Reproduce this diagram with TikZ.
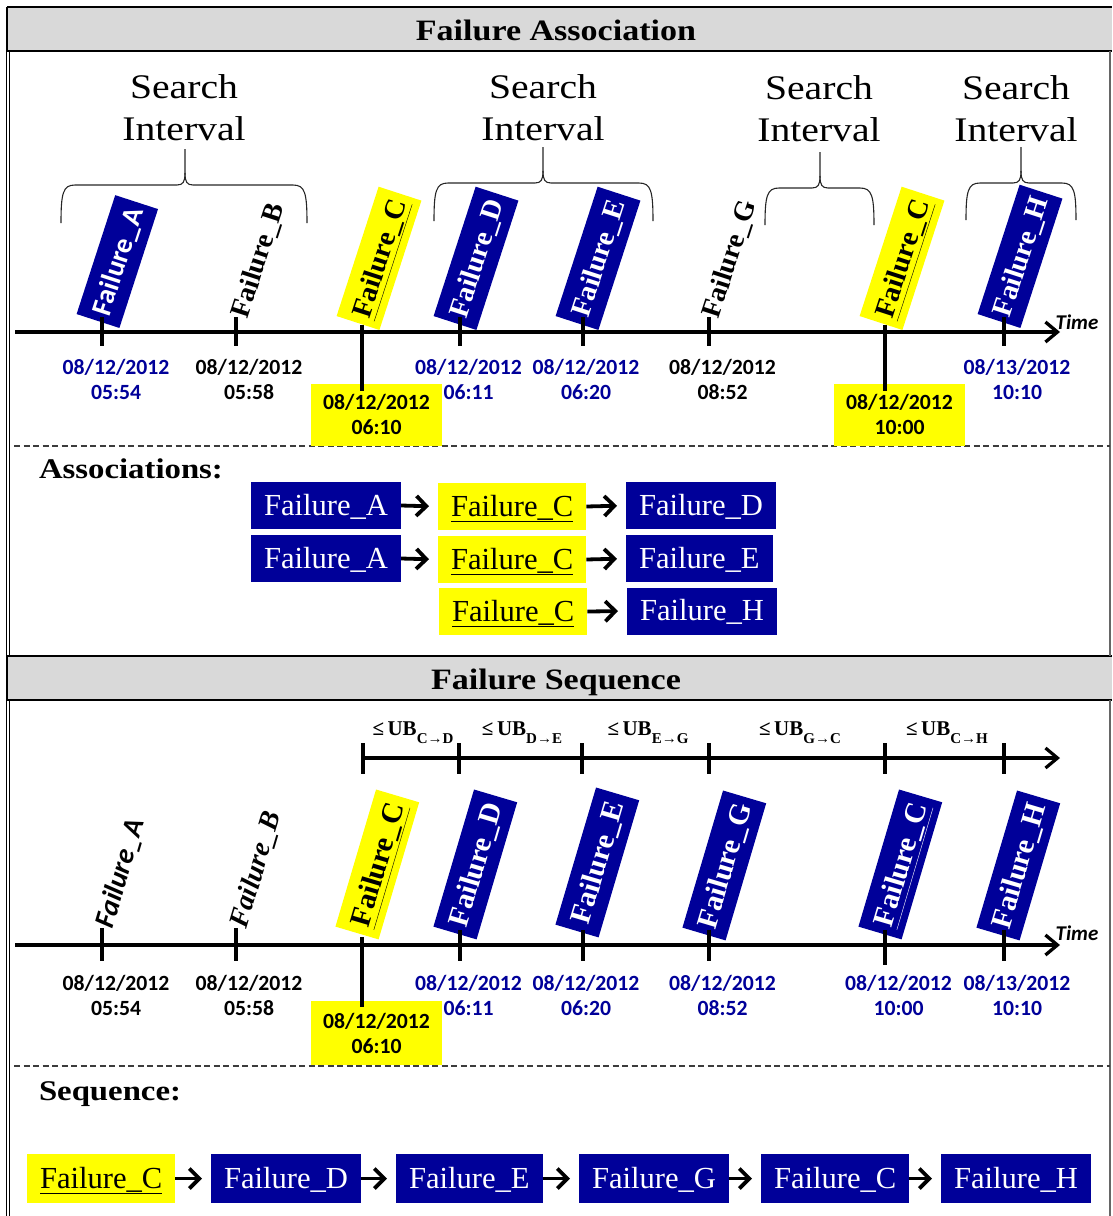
\documentclass[tikz,border=0pt]{standalone}
\usepackage{fontspec}
\setmainfont{Liberation Serif}
\newfontfamily\cambr[FakeStretch=1.15]{Liberation Serif}
\newfontfamily\calib{Carlito}
\usetikzlibrary{arrows.meta}
\definecolor{navy}{RGB}{0,0,153}
\definecolor{bandgray}{RGB}{217,217,217}
\definecolor{hiyel}{RGB}{255,255,0}
\definecolor{dashgray}{RGB}{60,60,60}
\newcommand\fsz[2]{\fontsize{#1}{#2}\selectfont}
\newcommand\ubsub[1]{\raisebox{-8pt}{\fsz{15}{15}#1}}
% curly brace over a search interval: left end, right end, tip x, top y, end y
\newcommand\sibrace[5]{%
  \draw[brc] (#1,#5) .. controls (#1,#4+8) and (#1+2,#4) .. (#1+14,#4) -- (#3-8,#4)
     .. controls (#3-2,#4) and (#3,#4-3) .. (#3,#4-12) -- (#3,#4-36);
  \draw[brc] (#2,#5) .. controls (#2,#4+8) and (#2-2,#4) .. (#2-14,#4) -- (#3+8,#4)
     .. controls (#3+2,#4) and (#3,#4-3) .. (#3,#4-12);
}
\tikzset{
  every node/.style={inner sep=0pt, outer sep=0pt},
  bandfill/.style={fill=bandgray},
  rulebold/.style={line width=2pt},
  rulethin/.style={line width=1.2pt},
  hdr/.style={anchor=base, font=\cambr\bfseries\fsz{29.6}{36}},
  srch/.style={font=\cambr\fsz{34.5}{42}, align=center},
  brc/.style={line width=1.1pt, draw=black!85},
  timeaxis/.style={line width=3.3pt, -{Straight Barb[length=12pt,width=20pt]}},
  tickmark/.style={line width=4pt},
  timelbl/.style={font=\calib\bfseries\itshape\fsz{21}{21}},
  rbone/.style={rotate=72, anchor=west, minimum width=136pt, minimum height=45pt,
     text height=19pt, text depth=0pt, font=\bfseries\fsz{28.5}{28.5}},
  rbtwo/.style={rotate=73.5, anchor=west, minimum width=143pt, minimum height=45pt,
     text height=19.5pt, text depth=0pt, font=\bfseries\fsz{29.5}{29.5}},
  navyfill/.style={fill=navy, text=white},
  yelfill/.style={fill=hiyel, text=black},
  freelbl/.style={anchor=west, text height=18pt, text depth=0pt, font=\bfseries\fsz{28}{28}},
  datelbl/.style={font=\calib\bfseries\fsz{21.7}{25}, align=center},
  datebox/.style={datelbl, fill=hiyel, minimum width=131pt, minimum height=62pt},
  sectlbl/.style={anchor=base west, font=\cambr\bfseries\fsz{28.5}{28.5}},
  fbox/.style={anchor=west, font=\fsz{30.6}{30.6}, inner xsep=13pt, minimum height=47pt,
     text height=20pt, text depth=1pt},
  flow/.style={line width=3.8pt, -{Straight Barb[length=10pt,width=20pt]}, shorten >=9pt},
  dashsep/.style={line width=1.3pt, draw=dashgray, dash pattern=on 6pt off 3.5pt},
  ubbar/.style={line width=3.2pt},
  ublbl/.style={anchor=base, font=\bfseries\fsz{21}{21}},
}
\begin{document}
\begin{tikzpicture}[x=1pt,y=-1pt]
\useasboundingbox (0,0) rectangle (1112,1216);

% ---------- frame and title bands ----------
\fill[bandfill] (7,7) rectangle (1112,51);
\fill[bandfill] (7,656) rectangle (1112,700);
\draw[rulebold] (7,7) -- (1112,7);
\draw[rulebold] (7,51) -- (1112,51);
\draw[rulebold] (7,656) -- (1112,656);
\draw[rulebold] (7,700) -- (1112,700);
\draw[rulebold] (7,7) -- (7,51);
\draw[rulebold] (7,656) -- (7,700);
\draw[rulethin] (6.5,51) -- (6.5,656) (9.5,51) -- (9.5,656)
                (6.5,700) -- (6.5,1216) (9.5,700) -- (9.5,1216);
\draw[rulethin, draw=black!60] (1110,51) -- (1110,656) (1110,700) -- (1110,1216);

\node[hdr] (hdrA) at (556,40) {Failure Association};
\node[hdr] (hdrS) at (556,689) {Failure Sequence};

% ---------- search intervals ----------
\node[srch] (si1) at (184,107.5) {Search\\Interval};
\node[srch] (si2) at (543,107.5) {Search\\Interval};
\node[srch] (si3) at (819,108.5) {Search\\Interval};
\node[srch] (si4) at (1016,108.5) {Search\\Interval};
\sibrace{61}{307}{185}{185}{223}
\sibrace{434}{653}{543}{183}{221}
\sibrace{765}{874}{820}{188}{225}
\sibrace{966}{1076}{1021}{183}{220}

% ---------- association timeline ----------
\node[rbone, navyfill, minimum width=125pt, font=\calib\bfseries\fsz{28.5}{28.5}] (fa1) at (98,321) {Failure\_A};
\node[freelbl, rotate=72] (fb1) at (239,317) {Failure\_B};
\node[rbone, yelfill] (fc1) at (358,323) {\underline{Failure\_C}};
\node[rbone, navyfill] (fd1) at (455,323) {Failure\_D};
\node[rbone, navyfill] (fe1) at (577,323) {Failure\_E};
\node[freelbl, rotate=72] (fg1) at (710,317) {Failure\_G};
\node[rbone, yelfill] (fcc1) at (881,323) {\underline{Failure\_C}};
\node[rbone, navyfill] (fh1) at (999,321) {Failure\_H};

\coordinate (ta1) at (15,332);
\coordinate (tb1) at (1060,332);
\draw[timeaxis] (ta1) -- (tb1);
\node[timelbl] (time1) at (1077,322) {Time};
\foreach \x in {102,236,460,583,709,1004} \draw[tickmark] (\x,317) -- (\x,346);

\draw[dashsep] (14,446) -- (1110,446);

\node[datelbl, text=navy] (da1) at (116,379) {08/12/2012\\05:54};
\node[datelbl] (db1) at (249,379) {08/12/2012\\05:58};
\node[datebox] (dc1) at (376.5,414.5) {08/12/2012\\06:10};
\node[datelbl, text=navy] (dd1) at (468.5,379) {08/12/2012\\06:11};
\node[datelbl, text=navy] (de1) at (586,379) {08/12/2012\\06:20};
\node[datelbl] (dg1) at (722.5,379) {08/12/2012\\08:52};
\node[datebox] (dcc1) at (899.5,414.5) {08/12/2012\\10:00};
\node[datelbl, text=navy] (dh1) at (1017,379) {08/13/2012\\10:10};
\draw[tickmark] (362,325) -- (362,391);
\draw[tickmark] (885,325) -- (885,391);

% ---------- associations ----------
\node[sectlbl] (assoc) at (39,478) {Associations:};
\node[fbox, navyfill] (r1a) at (251,505.5) {Failure\_A};
\node[fbox, yelfill] (r1c) at (438,506.5) {\underline{Failure\_C}};
\node[fbox, navyfill] (r1d) at (626,505.5) {Failure\_D};
\node[fbox, navyfill] (r2a) at (251,558.5) {Failure\_A};
\node[fbox, yelfill] (r2c) at (438,559.5) {\underline{Failure\_C}};
\node[fbox, navyfill] (r2e) at (626,558.5) {Failure\_E};
\node[fbox, yelfill] (r3c) at (439,611.5) {\underline{Failure\_C}};
\node[fbox, navyfill] (r3h) at (627,611) {Failure\_H};
\draw[flow] (r1a.east) -- (r1c.west);
\draw[flow] (r1c.east) -- (r1d.west);
\draw[flow] (r2a.east) -- (r2c.west);
\draw[flow] (r2c.east) -- (r2e.west);
\draw[flow] (r3c.east) -- (r3h.west);

% ---------- upper bounds between consecutive failures ----------
\foreach \x in {363,459,582,709,885,1004} \draw[ubbar] (\x,743) -- (\x,774);
\coordinate (ua) at (363,758);
\coordinate (ub) at (1060,758);
\draw[ubbar, -{Straight Barb[length=12pt,width=20pt]}] (ua) -- (ub);
\node[ublbl] (ub1) at (413,735) {≤\,UB\ubsub{C→D}};
\node[ublbl] (ub2) at (522,735) {≤\,UB\ubsub{D→E}};
\node[ublbl] (ub3) at (648,735) {≤\,UB\ubsub{E→G}};
\node[ublbl] (ub4) at (800,735) {≤\,UB\ubsub{G→C}};
\node[ublbl] (ub5) at (947,735) {≤\,UB\ubsub{C→H}};

% ---------- sequence timeline ----------
\node[freelbl, rotate=73.5, font=\calib\bfseries\itshape\fsz{28.5}{28.5}] (fa2) at (104,927) {Failure\_A};
\node[freelbl, rotate=73.5, font=\bfseries\itshape\fsz{28}{28}] (fb2) at (238,927) {Failure\_B};
\node[rbtwo, yelfill] (fc2) at (357,933) {\underline{Failure\_C}};
\node[rbtwo, navyfill] (fd2) at (455,933) {Failure\_D};
\node[rbtwo, navyfill] (fe2) at (577,931) {Failure\_E};
\node[rbtwo, navyfill] (fg2) at (704,934) {Failure\_G};
\node[rbtwo, navyfill] (fcc2) at (880,933) {\underline{Failure\_C}};
\node[rbtwo, navyfill] (fh2) at (998,934) {Failure\_H};

\coordinate (ta2) at (15,945);
\coordinate (tb2) at (1060,945);
\draw[timeaxis] (ta2) -- (tb2);
\node[timelbl] (time2) at (1077,933) {Time};
\foreach \x in {102,236} \draw[tickmark] (\x,928) -- (\x,961);
\foreach \x in {460,583,709,1004} \draw[tickmark] (\x,930) -- (\x,961);
\draw[tickmark] (885,930) -- (885,965);

\draw[dashsep] (14,1066) -- (1110,1066);

\node[datelbl] (da2) at (116,995) {08/12/2012\\05:54};
\node[datelbl] (db2) at (249,995) {08/12/2012\\05:58};
\node[datebox, minimum height=64pt] (dc2) at (376.5,1033) {08/12/2012\\06:10};
\node[datelbl, text=navy] (dd2) at (468.5,995) {08/12/2012\\06:11};
\node[datelbl, text=navy] (de2) at (586,995) {08/12/2012\\06:20};
\node[datelbl, text=navy] (dg2) at (722.5,995) {08/12/2012\\08:52};
\node[datelbl, text=navy] (dcc2) at (898.5,995) {08/12/2012\\10:00};
\node[datelbl, text=navy] (dh2) at (1017,995) {08/13/2012\\10:10};
\draw[tickmark] (362,937) -- (362,1007);

% ---------- resulting sequence ----------
\node[sectlbl] (seq) at (39,1100) {Sequence:};
\node[fbox, yelfill, minimum height=49pt] (s1) at (27,1178.5) {\underline{Failure\_C}};
\node[fbox, navyfill, minimum height=49pt] (s2) at (211,1178.5) {Failure\_D};
\node[fbox, navyfill, minimum height=49pt] (s3) at (396,1178.5) {Failure\_E};
\node[fbox, navyfill, minimum height=49pt] (s4) at (579,1178.5) {Failure\_G};
\node[fbox, navyfill, minimum height=49pt] (s5) at (761,1178.5) {Failure\_C};
\node[fbox, navyfill, minimum height=49pt] (s6) at (941,1178.5) {Failure\_H};
\draw[flow] (s1.east) -- (s2.west);
\draw[flow] (s2.east) -- (s3.west);
\draw[flow] (s3.east) -- (s4.west);
\draw[flow] (s4.east) -- (s5.west);
\draw[flow] (s5.east) -- (s6.west);
\end{tikzpicture}
\end{document}
